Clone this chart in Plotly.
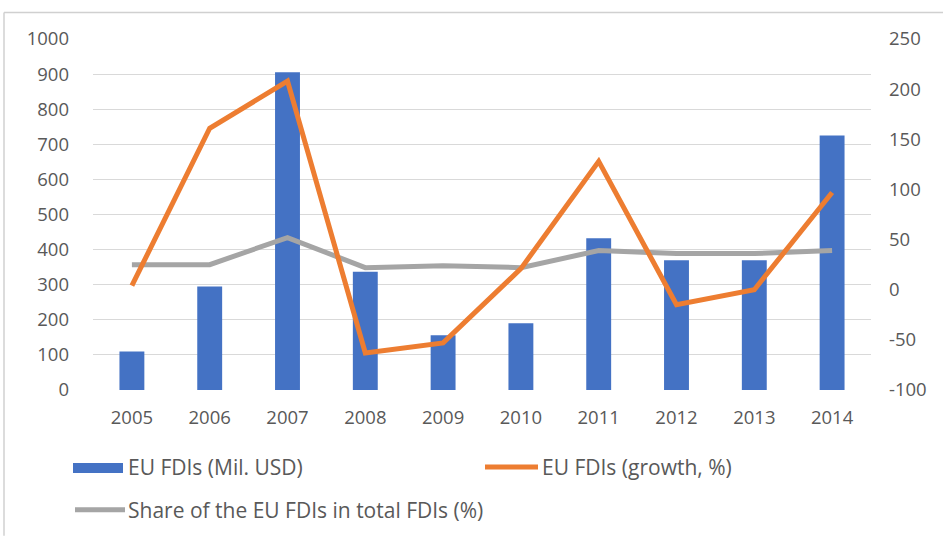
import plotly.graph_objects as go

years = ["2005", "2006", "2007", "2008", "2009", "2010", "2011", "2012", "2013", "2014"]
fdi_mil_usd = [110, 295, 905, 337, 156, 190, 432, 370, 370, 725]
fdi_growth = [4, 161, 208, -63, -53, 21, 128, -15, 0, 97]
fdi_share = [25, 25, 52, 22, 24, 22, 39, 36, 36, 39]

left_ticks = list(range(0, 1001, 100))
right_ticks = list(range(-100, 251, 50))
right_tick_labels = [str(v) for v in right_ticks]

W, H = 943, 536
L, R, T, B = 93, 72, 38.5, 146
PW, PH = W - L - R, H - T - B

BLUE, ORANGE, GRAY = "#4472C4", "#ED7D31", "#A5A5A5"
TXT = "#595959"
FONT = "Open Sans"
TICK_SIZE = 18.5
LEG_SIZE = 21


def px(x):
    return (x - L) / PW


def py(y):
    return (H - B - y) / PH


fig = go.Figure()
fig.add_trace(go.Bar(x=years, y=fdi_mil_usd, name="EU FDIs (Mil. USD)",
                     marker=dict(color=BLUE, line=dict(width=0)), showlegend=False))
fig.add_trace(go.Scatter(x=years, y=fdi_share, name="Share of the EU FDIs in total FDIs (%)",
                         mode="lines", line=dict(color=GRAY, width=5), yaxis="y2", showlegend=False))
fig.add_trace(go.Scatter(x=years, y=fdi_growth, name="EU FDIs (growth, %)",
                         mode="lines", line=dict(color=ORANGE, width=5), yaxis="y2", showlegend=False))

shapes = [
    # outer frame remnants
    dict(type="line", xref="paper", yref="paper", x0=px(4), x1=px(943), y0=py(12), y1=py(12),
         line=dict(color="#d0d0d0", width=1.5)),
    dict(type="line", xref="paper", yref="paper", x0=px(4), x1=px(4), y0=py(12), y1=py(536),
         line=dict(color="#d0d0d0", width=1.5)),
    # legend symbols
    dict(type="rect", xref="paper", yref="paper", x0=px(73), x1=px(123), y0=py(473), y1=py(463),
         fillcolor=BLUE, line=dict(width=0)),
    dict(type="line", xref="paper", yref="paper", x0=px(485), x1=px(538), y0=py(467), y1=py(467),
         line=dict(color=ORANGE, width=5)),
    dict(type="line", xref="paper", yref="paper", x0=px(75), x1=px(125), y0=py(510), y1=py(510),
         line=dict(color=GRAY, width=5)),
]

annotations = [
    dict(text="EU FDIs (Mil. USD)", x=px(126), y=py(467)),
    dict(text="EU FDIs (growth, %)", x=px(540), y=py(467)),
    dict(text="Share of the EU FDIs in total FDIs (%)", x=px(126), y=py(510)),
]
for a in annotations:
    a.update(xref="paper", yref="paper", xanchor="left", yanchor="middle", showarrow=False,
             font=dict(family=FONT, size=LEG_SIZE, color=TXT))

fig.update_layout(
    width=W, height=H,
    margin=dict(l=L, r=R, t=T, b=B, pad=0),
    paper_bgcolor="white", plot_bgcolor="white",
    font=dict(family=FONT, size=TICK_SIZE, color=TXT),
    bargap=0.68,
    showlegend=False,
    xaxis=dict(type="category", categoryorder="array", categoryarray=years,
               showgrid=False, showline=False, ticks="", ticklabelstandoff=14,
               tickfont=dict(family=FONT, size=TICK_SIZE, color=TXT)),
    yaxis=dict(range=[0, 1000], tickvals=left_ticks, showgrid=True, gridcolor="#d9d9d9",
               gridwidth=1, zeroline=False, showline=False, ticks="", ticklabelstandoff=23,
               tickfont=dict(family=FONT, size=TICK_SIZE, color=TXT)),
    yaxis2=dict(range=[-100, 250], tickvals=right_ticks, ticktext=right_tick_labels,
                overlaying="y", side="right",
                showgrid=False, zeroline=False, showline=False, ticks="", ticklabelstandoff=17,
                tickfont=dict(family=FONT, size=TICK_SIZE, color=TXT)),
    shapes=shapes,
    annotations=annotations,
)

fig.write_html("out.html", config={"displayModeBar": False},
               post_script="document.body.style.margin='0';document.body.style.overflow='hidden';")
